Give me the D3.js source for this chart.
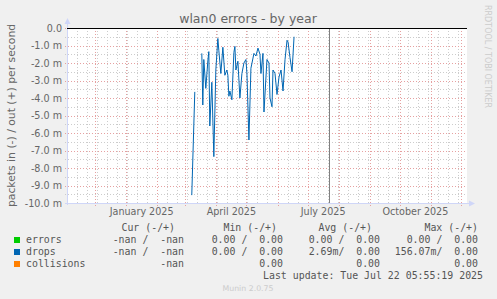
<!DOCTYPE html>
<html>
<head>
<meta charset="utf-8">
<script src="https://cdn.jsdelivr.net/npm/d3@7"></script>
<style>
  body { margin: 0; background: #f0f0f0; }
  svg { display: block; }
  text { font-family: "DejaVu Sans", sans-serif; }
  .mono { font-family: "DejaVu Sans Mono", monospace; white-space: pre; }
</style>
</head>
<body>
<div id="chart"></div>
<script>
const width = 497, height = 299;
const plot = { left: 67, right: 467, top: 28, bottom: 203 };

// drops, in (-) direction, daily averages in milli-packets/s (null = no data)
const dropDates = [
  '2025-03-07', '2025-03-10', '2025-03-13', '2025-03-17', '2025-03-18', '2025-03-19',
  '2025-03-21', '2025-03-23', '2025-03-24', '2025-03-25', '2025-03-27', '2025-03-29',
  '2025-03-31', '2025-04-02', '2025-04-03', '2025-04-05', '2025-04-07', '2025-04-09',
  '2025-04-11', '2025-04-12', '2025-04-13', '2025-04-14', '2025-04-16', '2025-04-18',
  '2025-04-19', '2025-04-20', '2025-04-22', '2025-04-24', '2025-04-26', '2025-04-28',
  '2025-04-30', '2025-05-01', '2025-05-03', '2025-05-05', '2025-05-08', '2025-05-10',
  '2025-05-12', '2025-05-14', '2025-05-15', '2025-05-17', '2025-05-18', '2025-05-21',
  '2025-05-23', '2025-05-24', '2025-05-26', '2025-05-27', '2025-05-29', '2025-05-31',
  '2025-06-02', '2025-06-04', '2025-06-06', '2025-06-08', '2025-06-10', '2025-06-11',
  '2025-06-13', '2025-06-15', '2025-06-17'
];
const dropValues = [
  -9.55, -3.65, null, -1.45, -4.4, -1.8,
  -3.45, -1.9, -1.35, -5.6, -3.1, -7.35,
  -2.4, -0.6, -1.3, -2.6, -1.1, -2.7,
  -2.4, -2.7, -3.9, -3.6, -4.1, -1.4,
  -1.05, -2.4, -1.9, -4.0, -2.6, -2.0,
  -1.8, -2.6, -6.4, -2.3, -1.45, -1.6,
  -1.15, -1.5, -2.6, -1.45, -4.8, -1.8,
  -2.0, -4.0, -4.5, -2.4, -2.6, -3.8,
  -2.8, -2.4, -3.6, -1.8, -0.7, -0.8,
  -1.7, -2.5, -0.5
];

const yTicks = d3.range(0, -10.5, -1);
const xLabelMonths = ['2025-01-01', '2025-04-01', '2025-07-01', '2025-10-01'];
const xLabelNames = ['January 2025', 'April 2025', 'July 2025', 'October 2025'];
const lastUpdate = '2025-07-22T05:55:19Z';

const legendNames = ['errors', 'drops', 'collisions'];
const legendColors = ['#00cc00', '#0066b3', '#ff8000'];
const legendHeaders = ['Cur (-/+)', 'Min (-/+)', 'Avg (-/+)', 'Max (-/+)'];
const curValues = ['-nan /  -nan', '-nan /  -nan', '-nan'];
const minValues = ['0.00 /  0.00', '0.00 /  0.00', '0.00'];
const avgValues = ['0.00 /  0.00', '2.69m/  0.00', '0.00'];
const maxValues = ['0.00 /  0.00', '156.07m/  0.00', '0.00'];

const svg = d3.select('#chart')
  .append('svg')
  .attr('width', width)
  .attr('height', height);

svg.append('rect').attr('width', width).attr('height', height).attr('fill', '#f0f0f0');
svg.append('rect')
  .attr('x', plot.left).attr('y', plot.top)
  .attr('width', plot.right - plot.left).attr('height', plot.bottom - plot.top)
  .attr('fill', '#ffffff');

const x = d3.scaleUtc()
  .domain([new Date(Date.UTC(2024, 10, 3, 1, 30)), new Date(Date.UTC(2025, 11, 6, 23, 30))])
  .range([plot.left, plot.right]);

const y = d3.scaleLinear()
  .domain([-10, 0])
  .range([plot.bottom, plot.top]);

const grid = svg.append('g');

// minor grid: half units, and every 10 days counted from the first day shown
const minorY = d3.range(-9.5, 0, 1);
grid.selectAll('line.minor-y')
  .data(minorY)
  .join('line')
  .attr('x1', plot.left - 2).attr('x2', plot.right)
  .attr('y1', d => Math.round(y(d)) + 0.5).attr('y2', d => Math.round(y(d)) + 0.5)
  .attr('stroke', '#cccccc').attr('stroke-dasharray', '1,2');

const firstDay = d3.utcDay.floor(x.domain()[0]);
const tenDays = d3.range(1, 40).map(i => d3.utcDay.offset(firstDay, i * 10))
  .filter(d => d < x.domain()[1]);
grid.selectAll('line.minor-x')
  .data(tenDays)
  .join('line')
  .attr('x1', d => Math.round(x(d)) + 0.5).attr('x2', d => Math.round(x(d)) + 0.5)
  .attr('y1', plot.top).attr('y2', plot.bottom + 2)
  .attr('stroke', '#cccccc').attr('stroke-dasharray', '1,2');

// major grid: whole units and months
grid.selectAll('line.major-y')
  .data(yTicks)
  .join('line')
  .attr('x1', plot.left - 2).attr('x2', plot.right)
  .attr('y1', d => Math.round(y(d)) + 0.5).attr('y2', d => Math.round(y(d)) + 0.5)
  .attr('stroke', '#e6a0a0').attr('stroke-dasharray', '1,2');

const months = d3.utcMonth.range(x.domain()[0], x.domain()[1]);
grid.selectAll('line.major-x')
  .data(months)
  .join('line')
  .attr('x1', d => Math.round(x(d)) + 0.5).attr('x2', d => Math.round(x(d)) + 0.5)
  .attr('y1', plot.top).attr('y2', plot.bottom + 3)
  .attr('stroke', '#e6a0a0').attr('stroke-dasharray', '1,2');

// axes with arrows
const axisColor = '#cfd6f8';
svg.append('line')
  .attr('x1', plot.left + 0.5).attr('x2', plot.left + 0.5)
  .attr('y1', plot.bottom + 2).attr('y2', plot.top - 6)
  .attr('stroke', axisColor);
svg.append('path')
  .attr('d', `M${plot.left - 2.5},${plot.top - 4} L${plot.left + 3.5},${plot.top - 4} L${plot.left + 0.5},${plot.top - 10} Z`)
  .attr('fill', axisColor);
svg.append('line')
  .attr('x1', plot.left - 2).attr('x2', plot.right + 4)
  .attr('y1', plot.bottom + 0.5).attr('y2', plot.bottom + 0.5)
  .attr('stroke', axisColor);
svg.append('path')
  .attr('d', `M${plot.right + 2},${plot.bottom - 2.5} L${plot.right + 2},${plot.bottom + 3.5} L${plot.right + 8},${plot.bottom + 0.5} Z`)
  .attr('fill', axisColor);

// tick labels
svg.selectAll('text.ylab')
  .data(yTicks)
  .join('text')
  .attr('x', 62)
  .attr('y', d => y(d) + 3.5)
  .attr('text-anchor', 'end')
  .attr('font-size', 9.6)
  .attr('fill', '#666666')
  .text(d => d === 0 ? '0.0' : `${d.toFixed(1)} m`);

svg.selectAll('text.xlab')
  .data(xLabelMonths)
  .join('text')
  .attr('x', d => {
    const start = new Date(d + 'T00:00:00Z');
    return x(new Date(+start + (+d3.utcMonth.offset(start, 1) - start) / 2));
  })
  .attr('y', 215)
  .attr('text-anchor', 'middle')
  .attr('font-size', 9.6)
  .attr('fill', '#666666')
  .text((d, i) => xLabelNames[i]);

// data lines
const dropData = dropDates.map((d, i) => ({ date: new Date(d + 'T12:00:00Z'), value: dropValues[i] }));
const line = d3.line()
  .defined(d => d.value !== null)
  .x(d => x(d.date))
  .y(d => y(d.value));

svg.append('path')
  .datum(dropData)
  .attr('d', line)
  .attr('fill', 'none')
  .attr('stroke', '#0066b3')
  .attr('stroke-width', 1);

// zero rule and "now" marker
svg.append('line')
  .attr('x1', plot.left).attr('x2', plot.right)
  .attr('y1', y(0) + 0.5).attr('y2', y(0) + 0.5)
  .attr('stroke', '#000000');
const nowX = Math.round(x(new Date(lastUpdate))) + 0.5;
svg.append('line')
  .attr('x1', nowX).attr('x2', nowX)
  .attr('y1', plot.top + 1).attr('y2', plot.bottom)
  .attr('stroke', '#808080');

// titles
svg.append('text')
  .attr('x', 248).attr('y', 23)
  .attr('text-anchor', 'middle')
  .attr('font-size', 12.5)
  .attr('fill', '#666666')
  .text('wlan0 errors - by year');

svg.append('text')
  .attr('transform', `translate(15,${(plot.top + plot.bottom) / 2}) rotate(-90)`)
  .attr('text-anchor', 'middle')
  .attr('font-size', 10.8)
  .attr('fill', '#666666')
  .text('packets in (-) / out (+) per second');

svg.append('text')
  .attr('transform', 'translate(485,5) rotate(90)')
  .attr('font-size', 8)
  .attr('fill', '#cccccc')
  .text('RRDTOOL / TOBI OETIKER');

// legend
const legend = svg.append('g').attr('class', 'mono').attr('font-size', 9.9).attr('fill', '#555555');
const headerEnds = [175, 277, 372, 478];
legend.selectAll('text.head')
  .data(legendHeaders)
  .join('text')
  .attr('class', 'mono')
  .attr('x', (d, i) => headerEnds[i])
  .attr('y', 231)
  .attr('text-anchor', 'end')
  .text(d => d);

const rows = legend.selectAll('g.row')
  .data(legendNames)
  .join('g')
  .attr('transform', (d, i) => `translate(0,${243 + i * 12})`);

rows.append('rect')
  .attr('x', 14).attr('y', -6)
  .attr('width', 6).attr('height', 6)
  .attr('fill', (d, i) => legendColors[i]);
rows.append('text').attr('class', 'mono').attr('x', 26).text(d => d);

const columns = [curValues, minValues, avgValues, maxValues];
const valueEnds = [184, 283, 380, 478];
columns.forEach((vals, c) => {
  rows.append('text')
    .attr('class', 'mono')
    .attr('x', valueEnds[c])
    .attr('text-anchor', 'end')
    .text((d, i) => vals[i]);
});

legend.append('text')
  .attr('class', 'mono')
  .attr('x', 483).attr('y', 279)
  .attr('text-anchor', 'end')
  .text('Last update: Tue Jul 22 05:55:19 2025');

svg.append('text')
  .attr('x', 248).attr('y', 291)
  .attr('text-anchor', 'middle')
  .attr('font-size', 7.8)
  .attr('fill', '#cccccc')
  .text('Munin 2.0.75');
</script>
</body>
</html>
